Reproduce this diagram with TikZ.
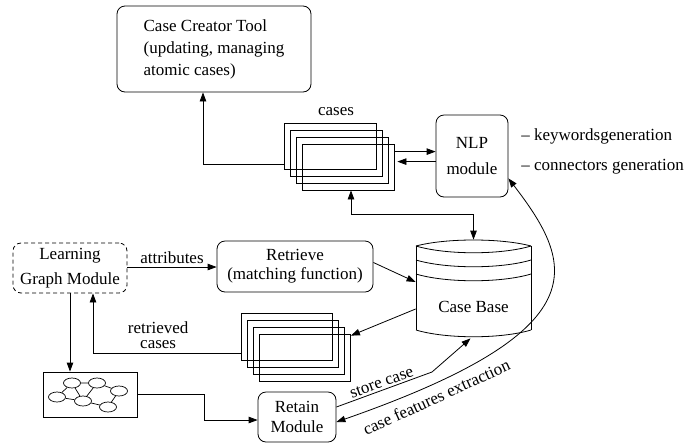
\documentclass[tikz,border=0pt]{standalone}
\usepackage{fontspec}
\setmainfont{Liberation Serif}
\usetikzlibrary{arrows.meta,shapes.misc,shapes.geometric,calc}
\begin{document}
\begin{tikzpicture}[x=1pt,y=-1pt,
  font=\fontsize{17}{20}\selectfont,
  line width=0.8pt,
  >={Triangle[length=9pt,width=6.5pt]},
  box/.style={draw, rounded corners=8pt, align=center, inner sep=0pt},
  card/.style={draw, chamfered rectangle, chamfered rectangle corners=north west,
    chamfered rectangle xsep=7pt, minimum width=92pt, minimum height=46pt, inner sep=0pt},
  gnode/.style={draw, ellipse, minimum width=17pt, minimum height=10pt, inner sep=0pt, line width=0.7pt},
  lbl/.style={inner sep=1pt}]
\useasboundingbox (0,0) rectangle (684,445);

% boxes
\node[box, minimum width=194pt, minimum height=86pt, align=left] (creator) at (214,49)
  {Case Creator Tool\\[2pt](updating, managing\\[2pt]atomic cases)};
\node[box, minimum width=72pt, minimum height=82pt] (nlp) at (472,156) {NLP\\[6pt]module};
\node[box, dash pattern=on 4pt off 3pt, minimum width=114pt, minimum height=50pt] (lgm) at (70,268)
  {Learning\\[5pt]Graph Module};
\node[box, minimum width=156pt, minimum height=51pt] (retrieve) at (295,266.5)
  {Retrieve\\[-1pt](matching function)};
\node[box, minimum width=78pt, minimum height=50pt] (retain) at (297,417) {Retain\\Module};

% side notes
\node[lbl, anchor=west, inner sep=0pt] (kw) at (521,136) {-- keywordsgeneration};
\node[lbl, anchor=west, inner sep=0pt] (cg) at (521,167) {-- connectors generation};

% case stacks
\foreach \i/\x/\y in {1/330/146, 2/336/153, 3/342/160, 4/348/167}
  \node[card] (c\i) at (\x,\y) {};
\node[lbl] (caseslbl) at (336,112) {cases};
\foreach \i/\x/\y in {1/287/336.5, 2/293/343.5, 3/299/350.5, 4/305/357.5}
  \node[card, minimum width=91pt, minimum height=47pt] (d\i) at (\x,\y) {};

% case base (cylinder)
\node[minimum width=115pt, minimum height=98pt, inner sep=0pt] (cb) at (473.5,289) {};
\draw (416,246) .. controls (446,238) and (501,238) .. (531,246);
\draw (416,246) .. controls (446,255) and (501,255) .. (531,246);
\draw (416,260) .. controls (446,269) and (501,269) .. (531,260);
\draw (416,274) .. controls (446,283) and (501,283) .. (531,274);
\draw (416,330) .. controls (446,339) and (501,339) .. (531,330);
\draw (416,246) -- (416,330) (531,246) -- (531,330);
\node (cbt) at (473.5,307) {Case Base};

% graph box
\node[card, minimum width=94pt, minimum height=45pt] (g) at (90,394.5) {};
\node[gnode] (ga) at (72,383) {};
\node[gnode] (gb) at (97,383) {};
\node[gnode] (gc) at (57,397) {};
\node[gnode] (gd) at (83,401) {};
\node[gnode] (ge) at (119,391) {};
\node[gnode] (gf) at (108,407) {};
\draw[line width=0.7pt] (ga)--(gb) (ga)--(gc) (ga)--(gd) (gb)--(gd) (gb)--(ge) (gc)--(gd) (gd)--(gf) (ge)--(gf);

% connectors
\draw[->] ([yshift=5pt]c1.south west) -| ([xshift=-11pt]creator.south);
\draw[->] ([yshift=-8pt]c4.north east) -- ([yshift=-8pt]c4.north east -| nlp.west);
\draw[->] ([yshift=-18pt]c4.north east -| nlp.west) -- ([yshift=-18pt,xshift=3pt]c4.north east);
\draw[<->] ([xshift=3pt]c4.south) -- ++(0,24) -| (cb.north);
\draw[->] (lgm.east |- 0,267) -- node[lbl, above=2pt] {attributes} (retrieve.west |- 0,267);
\draw[->] ([yshift=4pt]retrieve.east) -- ([yshift=7pt]cb.west);
\draw[->] ([yshift=-20pt]cb.west) -- ([yshift=-2pt]d4.north east);
\draw[->] ([yshift=7pt]d1.south west) -| node[pos=0.28, above=3pt, align=center, lbl] {retrieved\\[-5pt]cases} ([xshift=23pt]lgm.south);
\draw[->] (lgm.south) -- (lgm.south |- g.north);
\draw[->] (g.east) -- ++(67,0) |- ([yshift=-3pt]retain.west);
\coordinate (sc) at (432,372);
\draw[->] ([yshift=10pt]retain.east) -- node[lbl, sloped, above=1pt] {store case} (sc) -- ([xshift=-3pt]cb.south);
\draw[<->] ([yshift=19pt]nlp.south east) .. controls (575,265) and (600,330) .. ([yshift=-5pt]retain.east)
  node[lbl, pos=0.86, sloped, below=6pt] {case features extraction};
\end{tikzpicture}
\end{document}
